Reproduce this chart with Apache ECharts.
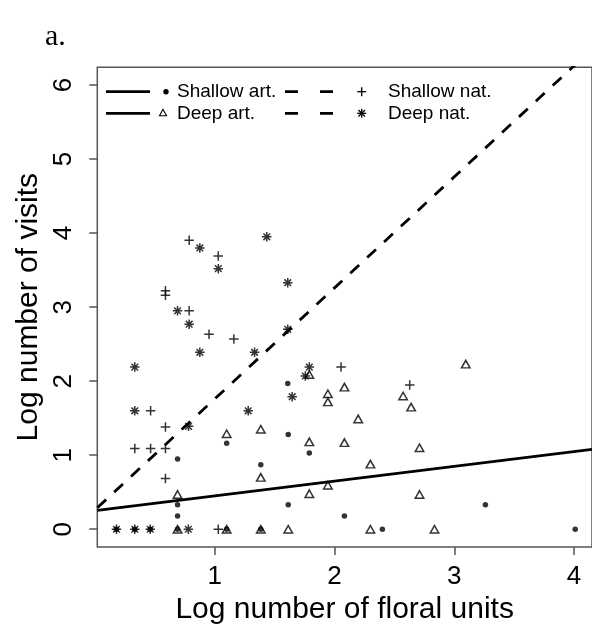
<!DOCTYPE html>
<html>
<head>
<meta charset="utf-8">
<script src="https://cdn.jsdelivr.net/npm/echarts@6/dist/echarts.min.js"></script>
<style>
html,body{margin:0;padding:0;background:#fff;}
#chart{width:592px;height:630px;}
</style>
</head>
<body>
<div id="chart"></div>
<script>
// ---- data ----
const shallowArtX = [0.18, 0.333, 0.462, 0.69, 1.10, 1.385, 2.40, 4.01, 0.69, 0.69, 0.69, 1.10, 1.385, 1.614, 1.614, 1.61, 1.79, 2.083, 3.26];
const shallowArtY = [0, 0, 0, 0, 0, 0, 0, 0, 0.18, 0.33, 0.95, 1.16, 0.87, 1.28, 0.33, 1.97, 1.03, 0.18, 0.33];

const deepArtX = [0.69, 1.10, 1.385, 1.614, 2.30, 2.835, 0.69, 1.10, 1.385, 1.385, 1.79, 1.79, 1.945, 1.79, 1.945, 1.945, 2.083, 2.083, 2.198, 2.30, 2.573, 2.64, 2.71, 2.71, 3.096];
const deepArtY = [0, 0, 0, 0, 0, 0, 0.47, 1.29, 1.35, 0.70, 1.18, 0.48, 0.595, 2.09, 1.83, 1.72, 1.92, 1.17, 1.49, 0.88, 1.80, 1.65, 1.10, 0.47, 2.23];

const shallowNatX = [1.03, 0.333, 0.465, 0.589, 0.589, 0.589, 0.465, 0.787, 1.03, 0.589, 0.589, 0.787, 0.953, 1.16, 2.055, 2.628];
const shallowNatY = [0, 1.09, 1.09, 1.09, 0.685, 1.38, 1.60, 3.905, 3.69, 3.22, 3.16, 2.95, 2.635, 2.57, 2.19, 1.95];

const deepNatX = [0.18, 0.333, 0.462, 0.78, 0.333, 0.333, 0.876, 1.03, 1.435, 1.61, 0.69, 0.787, 0.876, 1.333, 1.61, 1.79, 1.757, 1.647, 1.28, 0.782];
const deepNatY = [0, 0, 0, 0, 2.19, 1.60, 3.80, 3.52, 3.95, 3.33, 2.95, 2.77, 2.39, 2.39, 2.70, 2.19, 2.07, 1.79, 1.60, 1.39];

// fitted lines: [intercept, slope]
const artFit = [0.25, 0.20];
const natFit = [0.26, 1.50];

const xTicks = [1, 2, 3, 4];
const yTicks = [0, 1, 2, 3, 4, 5, 6];
const xRange = [0.02, 4.15];
const yRange = [-0.24, 6.24];

const legendLabels = ['Shallow art.', 'Deep art.', 'Shallow nat.', 'Deep nat.'];
const xTitle = 'Log number of floral units';
const yTitle = 'Log number of visits';
const panelLabel = 'a.';

// ---- build ----
const zip = (xs, ys) => xs.map((x, i) => [x, ys[i]]);
const fitLine = (f) => [[xRange[0], f[0] + f[1] * xRange[0]], [xRange[1], f[0] + f[1] * xRange[1]]];

const PLUS = 'path://M5,0L5,10M0,5L10,5';
const STAR = 'path://M5,0L5,10M0,5L10,5M1.5,1.5L8.5,8.5M8.5,1.5L1.5,8.5';
const SANS = '"Liberation Sans", Arial, Helvetica, sans-serif';

const chart = echarts.init(document.getElementById('chart'), null, {renderer: 'canvas'});

// legend graphics
const G = [];
const lw = 2.8;
function lineEl(x1, y1, x2, y2, dash) {
  return {type: 'line', shape: {x1, y1, x2, y2}, style: {stroke: '#000', lineWidth: lw, lineDash: dash || null}};
}
function segs(cx, cy, r, withDiag) {
  const out = [
    {type: 'line', shape: {x1: cx - r, y1: cy, x2: cx + r, y2: cy}, style: {stroke: '#000', lineWidth: 1.3}},
    {type: 'line', shape: {x1: cx, y1: cy - r, x2: cx, y2: cy + r}, style: {stroke: '#000', lineWidth: 1.3}}
  ];
  if (withDiag) {
    const d = r * 0.72;
    out.push({type: 'line', shape: {x1: cx - d, y1: cy - d, x2: cx + d, y2: cy + d}, style: {stroke: '#000', lineWidth: 1.3}});
    out.push({type: 'line', shape: {x1: cx - d, y1: cy + d, x2: cx + d, y2: cy - d}, style: {stroke: '#000', lineWidth: 1.3}});
  }
  return out;
}
function txt(x, y, s) {
  return {type: 'text', x, y, style: {text: s, fontSize: 19, fontFamily: SANS, fill: '#000', textVerticalAlign: 'middle', textAlign: 'left'}};
}
const r1 = 91.7, r2 = 113.3;
G.push(lineEl(106, r1, 150, r1));
G.push({type: 'circle', shape: {cx: 166, cy: r1, r: 2.7}, style: {fill: '#000'}});
G.push(txt(177, r1, legendLabels[0]));
G.push(lineEl(106, r2, 150, r2));
G.push({type: 'polygon', shape: {points: [[163, r2 - 4], [159.5, r2 + 2.5], [166.5, r2 + 2.5]]}, style: {fill: '#fff', stroke: '#000', lineWidth: 1.1}});
G.push(txt(177, r2, legendLabels[1]));
G.push(lineEl(285, r1, 333, r1, [13, 22]));
G.push(...segs(361.7, r1, 4.5, false));
G.push(txt(388, r1, legendLabels[2]));
G.push(lineEl(285, r2, 333, r2, [13, 22]));
G.push(...segs(361.7, r2, 4.5, true));
G.push(txt(388, r2, legendLabels[3]));
G.push({type: 'text', x: 45, y: 37, style: {text: panelLabel, fontSize: 30, fontFamily: '"Liberation Serif", "Times New Roman", serif', fill: '#000', textVerticalAlign: 'middle', textAlign: 'left'}});

const option = {
  animation: false,
  backgroundColor: '#fff',
  grid: {left: 97.3, top: 67.3, width: 500, height: 479.7, show: true, borderColor: '#555', borderWidth: 1.5, containLabel: false},
  xAxis: {
    type: 'value', min: xRange[0], max: xRange[1],
    splitLine: {show: false},
    axisLine: {show: false, onZero: false},
    axisTick: {show: true, inside: false, length: 8, customValues: xTicks, lineStyle: {color: '#555', width: 1.5}},
    axisLabel: {show: true, customValues: xTicks, margin: 17, fontSize: 26, color: '#000', fontFamily: SANS},
    name: xTitle, nameLocation: 'middle', nameGap: 48,
    nameTextStyle: {fontSize: 30, color: '#000', fontFamily: SANS}
  },
  yAxis: {
    type: 'value', min: yRange[0], max: yRange[1],
    splitLine: {show: false},
    axisLine: {show: false, onZero: false},
    axisTick: {show: true, inside: false, length: 8, customValues: yTicks, lineStyle: {color: '#555', width: 1.5}},
    axisLabel: {show: true, customValues: yTicks, rotate: 90, margin: 20, fontSize: 26, color: '#000', fontFamily: SANS},
    name: yTitle, nameLocation: 'middle', nameGap: 52, nameRotate: 90,
    nameTextStyle: {fontSize: 30, color: '#000', fontFamily: SANS}
  },
  series: [
    {type: 'scatter', name: legendLabels[0], data: zip(shallowArtX, shallowArtY), symbol: 'circle', symbolSize: 5.5, itemStyle: {color: '#000'}},
    {type: 'scatter', name: legendLabels[1], data: zip(deepArtX, deepArtY), symbol: 'triangle', symbolSize: [8.5, 7.5], itemStyle: {color: 'rgba(255,255,255,0)', borderColor: '#000', borderWidth: 1.5}},
    {type: 'scatter', name: legendLabels[2], data: zip(shallowNatX, shallowNatY), symbol: PLUS, symbolSize: 9.5, itemStyle: {color: 'none', borderColor: '#000', borderWidth: 1.5}},
    {type: 'scatter', name: legendLabels[3], data: zip(deepNatX, deepNatY), symbol: STAR, symbolSize: 9.5, itemStyle: {color: 'none', borderColor: '#000', borderWidth: 1.5}},
    {type: 'line', data: fitLine(artFit), showSymbol: false, symbol: 'none', clip: true, lineStyle: {color: '#000', width: lw, type: 'solid'}, z: 3},
    {type: 'line', data: fitLine(natFit), showSymbol: false, symbol: 'none', clip: true, lineStyle: {color: '#000', width: lw, type: [12, 11]}, z: 3}
  ],
  graphic: G
};
chart.setOption(option);
</script>
</body>
</html>
